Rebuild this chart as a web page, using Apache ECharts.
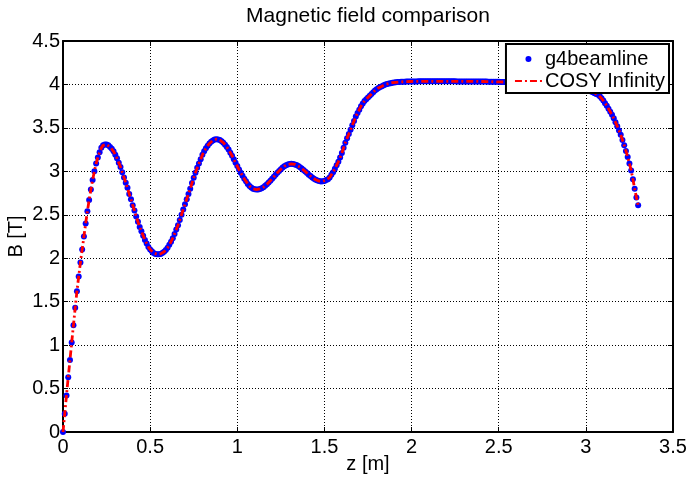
<!DOCTYPE html>
<html>
<head>
<meta charset="utf-8">
<script src="https://cdn.jsdelivr.net/npm/echarts@6/dist/echarts.min.js"></script>
<style>html,body{margin:0;padding:0;background:#fff}#c{width:689px;height:479px}</style>
</head>
<body>
<div id="c"></div>
<script>
// z positions [m]
var zValues = [
0,0.01,0.02,0.03,0.04,0.05,0.06,0.07,0.08,0.09,
0.10,0.11,0.12,0.13,0.14,0.15,0.16,0.17,0.18,0.19,
0.20,0.21,0.22,0.23,0.24,0.25,0.26,0.27,0.28,0.29,
0.30,0.31,0.32,0.33,0.34,0.35,0.36,0.37,0.38,0.39,
0.40,0.41,0.42,0.43,0.44,0.45,0.46,0.47,0.48,0.49,
0.50,0.51,0.52,0.53,0.54,0.55,0.56,0.57,0.58,0.59,
0.60,0.61,0.62,0.63,0.64,0.65,0.66,0.67,0.68,0.69,
0.70,0.71,0.72,0.73,0.74,0.75,0.76,0.77,0.78,0.79,
0.80,0.81,0.82,0.83,0.84,0.85,0.86,0.87,0.88,0.89,
0.90,0.91,0.92,0.93,0.94,0.95,0.96,0.97,0.98,0.99,
1.00,1.01,1.02,1.03,1.04,1.05,1.06,1.07,1.08,1.09,
1.10,1.11,1.12,1.13,1.14,1.15,1.16,1.17,1.18,1.19,
1.20,1.21,1.22,1.23,1.24,1.25,1.26,1.27,1.28,1.29,
1.30,1.31,1.32,1.33,1.34,1.35,1.36,1.37,1.38,1.39,
1.40,1.41,1.42,1.43,1.44,1.45,1.46,1.47,1.48,1.49,
1.50,1.51,1.52,1.53,1.54,1.55,1.56,1.57,1.58,1.59,
1.60,1.61,1.62,1.63,1.64,1.65,1.66,1.67,1.68,1.69,
1.70,1.71,1.72,1.73,1.74,1.75,1.76,1.77,1.78,1.79,
1.80,1.81,1.82,1.83,1.84,1.85,1.86,1.87,1.88,1.89,
1.90,1.91,1.92,1.93,1.94,1.95,1.96,1.97,1.98,1.99,
2.00,2.01,2.02,2.03,2.04,2.05,2.06,2.07,2.08,2.09,
2.10,2.11,2.12,2.13,2.14,2.15,2.16,2.17,2.18,2.19,
2.20,2.21,2.22,2.23,2.24,2.25,2.26,2.27,2.28,2.29,
2.30,2.31,2.32,2.33,2.34,2.35,2.36,2.37,2.38,2.39,
2.40,2.41,2.42,2.43,2.44,2.45,2.46,2.47,2.48,2.49,
2.50,2.51,2.52,2.53,2.54,2.55,2.56,2.57,2.58,2.59,
2.60,2.61,2.62,2.63,2.64,2.65,2.66,2.67,2.68,2.69,
2.70,2.71,2.72,2.73,2.74,2.75,2.76,2.77,2.78,2.79,
2.80,2.81,2.82,2.83,2.84,2.85,2.86,2.87,2.88,2.89,
2.90,2.91,2.92,2.93,2.94,2.95,2.96,2.97,2.98,2.99,
3.00,3.01,3.02,3.03,3.04,3.05,3.06,3.07,3.08,3.09,
3.10,3.11,3.12,3.13,3.14,3.15,3.16,3.17,3.18,3.19,
3.20,3.21,3.22,3.23,3.24,3.25,3.26,3.27,3.28,3.29,
3.30
];
// g4beamline field B [T]
var g4beamlineB = [
0,0.21,0.42,0.63,0.83,1.03,1.23,1.43,1.62,1.79,
1.95,2.10,2.25,2.40,2.54,2.67,2.79,2.90,3.00,3.09,
3.16,3.22,3.27,3.30,3.31,3.31,3.30,3.28,3.26,3.23,
3.19,3.15,3.10,3.05,2.99,2.93,2.87,2.81,2.74,2.68,
2.61,2.55,2.48,2.42,2.36,2.31,2.26,2.21,2.17,2.13,
2.10,2.08,2.06,2.05,2.045,2.045,2.05,2.06,2.075,2.095,
2.12,2.155,2.19,2.23,2.28,2.33,2.38,2.44,2.50,2.56,
2.62,2.68,2.74,2.80,2.865,2.925,2.985,3.04,3.09,3.14,
3.19,3.23,3.265,3.295,3.32,3.34,3.355,3.365,3.37,3.367,
3.36,3.346,3.33,3.305,3.28,3.25,3.215,3.18,3.14,3.10,
3.06,3.02,2.985,2.95,2.915,2.885,2.855,2.83,2.815,2.80,
2.793,2.79,2.792,2.797,2.806,2.818,2.833,2.851,2.871,2.892,
2.915,2.938,2.961,2.984,3.005,3.025,3.043,3.058,3.07,3.079,
3.084,3.086,3.084,3.08,3.072,3.061,3.048,3.033,3.016,2.999,
2.98,2.962,2.945,2.929,2.915,2.903,2.894,2.888,2.884,2.885,
2.89,2.90,2.91,2.93,2.96,2.99,3.03,3.07,3.11,3.16,
3.21,3.27,3.33,3.38,3.43,3.48,3.53,3.58,3.63,3.67,
3.71,3.75,3.78,3.81,3.83,3.85,3.87,3.89,3.91,3.93,
3.945,3.96,3.97,3.98,3.99,4.00,4.005,4.01,4.015,4.02,
4.022,4.025,4.027,4.029,4.03,4.031,4.032,4.033,4.033,4.034,
4.034,4.035,4.035,4.035,4.036,4.036,4.036,4.036,4.036,4.036,
4.036,4.036,4.036,4.036,4.036,4.036,4.036,4.036,4.036,4.036,
4.036,4.036,4.036,4.036,4.036,4.036,4.035,4.035,4.035,4.035,
4.035,4.035,4.035,4.035,4.035,4.035,4.035,4.035,4.034,4.034,
4.034,4.034,4.033,4.033,4.032,4.032,4.031,4.031,4.030,4.030,
4.030,4.029,4.029,4.028,4.028,4.027,4.027,4.026,4.026,4.025,
4.025,4.024,4.023,4.022,4.021,4.020,4.019,4.018,4.017,4.016,
4.015,4.013,4.012,4.011,4.009,4.008,4.006,4.005,4.003,4.002,
4.000,3.998,3.996,3.994,3.992,3.990,3.988,3.985,3.983,3.980,
3.978,3.975,3.972,3.970,3.968,3.965,3.962,3.959,3.956,3.953,
3.950,3.94,3.93,3.92,3.91,3.90,3.89,3.88,3.865,3.84,
3.815,3.785,3.755,3.72,3.685,3.65,3.61,3.565,3.52,3.47,
3.42,3.36,3.30,3.235,3.165,3.09,3.01,2.91,2.80,2.70,
2.61
];
// COSY Infinity field B [T] (overlaps the g4beamline curve)
var cosyB = g4beamlineB.slice();

var xTicks = [0, 0.5, 1, 1.5, 2, 2.5, 3, 3.5];
var yTicks = [0, 0.5, 1, 1.5, 2, 2.5, 3, 3.5, 4, 4.5];
var seriesNames = ['g4beamline', 'COSY Infinity'];

function pairs(xs, ys) { return xs.map(function (x, i) { return [x, ys[i]]; }); }

var FONT = '"Liberation Sans", Arial, Helvetica, sans-serif';
var gridLine = { show: true, lineStyle: { color: '#000', width: 1, type: [1, 2] } };
function mainAxis(ticks, extra) {
  var a = {
    type: 'value', min: ticks[0], max: ticks[ticks.length - 1], interval: ticks[1] - ticks[0],
    axisLine: { show: true, onZero: false, lineStyle: { color: '#000', width: 2 } },
    axisTick: { show: true, inside: true, length: 5, lineStyle: { color: '#000', width: 1 } },
    axisLabel: { color: '#000', fontSize: 20, fontFamily: FONT },
    splitLine: gridLine,
    nameMoveOverlap: false,
    nameTextStyle: { color: '#000', fontSize: 20, fontFamily: FONT }
  };
  for (var k in extra) a[k] = extra[k];
  return a;
}
function boxAxis(ticks, pos) {
  return {
    type: 'value', position: pos, min: ticks[0], max: ticks[ticks.length - 1], interval: ticks[1] - ticks[0],
    axisLine: { show: true, onZero: false, lineStyle: { color: '#000', width: 2 } },
    axisTick: { show: true, inside: true, length: 5, lineStyle: { color: '#000', width: 1 } },
    axisLabel: { show: false }, splitLine: { show: false }
  };
}

var chart = echarts.init(document.getElementById('c'), null, { renderer: 'canvas' });
chart.setOption({
  animation: false,
  backgroundColor: '#fff',
  title: {
    text: 'Magnetic field comparison', left: 368, top: 6, padding: 0, textAlign: 'center',
    textStyle: { color: '#000', fontSize: 21, fontWeight: 'normal', fontFamily: FONT }
  },
  grid: { left: 63, right: 16, top: 41, bottom: 47, containLabel: false, outerBoundsMode: 'none' },
  xAxis: [
    mainAxis(xTicks, { position: 'bottom', name: 'z [m]', nameLocation: 'middle', nameGap: 22,
      axisLabel: { color: '#000', fontSize: 20, fontFamily: FONT, margin: 5 } }),
    boxAxis(xTicks, 'top')
  ],
  yAxis: [
    mainAxis(yTicks, { position: 'left', name: 'B [T]', nameLocation: 'middle', nameGap: 37,
      axisLabel: { color: '#000', fontSize: 20, fontFamily: FONT, margin: 3 } }),
    boxAxis(yTicks, 'right')
  ],
  legend: {
    right: 20, top: 44, orient: 'vertical', align: 'left',
    backgroundColor: '#fff', borderColor: '#000', borderWidth: 2, borderRadius: 0,
    padding: [5, 4, 2, 8], itemGap: 2, itemWidth: 27, itemHeight: 6,
    textStyle: { color: '#000', fontSize: 20, fontFamily: FONT, padding: [0, 0, 0, -2] },
    data: [
      { name: seriesNames[0], icon: 'circle' },
      { name: seriesNames[1], itemStyle: { opacity: 0 } }
    ]
  },
  series: [
    {
      name: seriesNames[0], type: 'scatter', xAxisIndex: 0, yAxisIndex: 0,
      data: pairs(zValues, g4beamlineB), symbol: 'circle', symbolSize: 6,
      itemStyle: { color: '#0000ff', opacity: 1 }, z: 2
    },
    {
      name: seriesNames[1], type: 'line', xAxisIndex: 0, yAxisIndex: 0,
      data: pairs(zValues, cosyB), showSymbol: false, symbol: 'none', smooth: false,
      lineStyle: { color: '#ff0000', width: 2.8, type: [7, 3, 2, 3] },
      itemStyle: { color: '#ff0000' }, z: 3
    }
  ]
});
</script>
</body>
</html>
